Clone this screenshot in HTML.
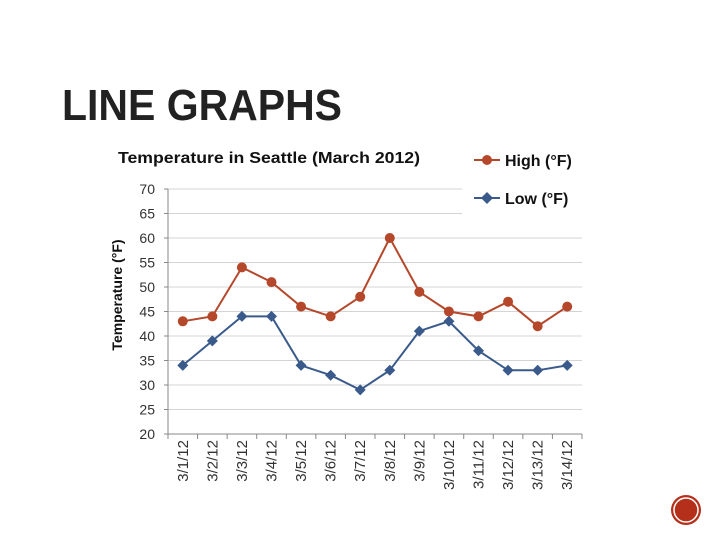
<!DOCTYPE html>
<html><head><meta charset="utf-8"><style>
body{margin:0;background:#fff}
svg{display:block;font-family:"Liberation Sans",sans-serif}
</style></head><body>
<svg id="c" width="720" height="540" viewBox="0 0 720 540">
<text x="62" y="120" font-size="44" font-weight="bold" fill="#222" textLength="280" lengthAdjust="spacingAndGlyphs">LINE GRAPHS</text>
<text x="118" y="163" font-size="16" font-weight="bold" fill="#111" textLength="302" lengthAdjust="spacingAndGlyphs">Temperature in Seattle (March 2012)</text>
<text transform="translate(122,295) rotate(-90)" text-anchor="middle" font-size="14" font-weight="bold" fill="#111">Temperature (°F)</text>
<g id="grid"></g><g id="axes"></g><g id="series"></g>
<rect x="462" y="140" width="130" height="75" fill="#fff"/>
<g>
<line x1="474" y1="160" x2="500" y2="160" stroke="#b5472a" stroke-width="2"/><circle cx="487" cy="160" r="5" fill="#b5472a"/>
<text x="505" y="166" font-size="16" font-weight="bold" fill="#111">High (°F)</text></g>
<g>
<line x1="474" y1="198" x2="500" y2="198" stroke="#3a5a8c" stroke-width="2"/><path d="M487 192 L493 198 L487 204 L481 198Z" fill="#3a5a8c"/>
<text x="505" y="204" font-size="16" font-weight="bold" fill="#111">Low (°F)</text></g>
<g>
<circle cx="686" cy="510" r="15" fill="#b5301a"/><circle cx="686" cy="510" r="12" fill="none" stroke="#fff" stroke-width="1.5"/></g>
</svg>
<script>
const categories=["3/1/12","3/2/12","3/3/12","3/4/12","3/5/12","3/6/12","3/7/12","3/8/12","3/9/12","3/10/12","3/11/12","3/12/12","3/13/12","3/14/12"];
const highValues=[43,44,54,51,46,44,48,60,49,45,44,47,42,46];
const lowValues=[34,39,44,44,34,32,29,33,41,43,37,33,33,34];
const yTicks=[20,25,30,35,40,45,50,55,60,65,70];
const NS="http://www.w3.org/2000/svg";
const L=168,R=582,T=189,B=434,yMin=20,yMax=70;
const cw=(R-L)/categories.length;
const xs=i=>L+cw*(i+0.5);
const ys=v=>B-(v-yMin)/(yMax-yMin)*(B-T);
function mk(tag,a,p){const e=document.createElementNS(NS,tag);for(const k in a)e.setAttribute(k,a[k]);p.appendChild(e);return e;}
const grid=document.getElementById('grid'),axes=document.getElementById('axes'),ser=document.getElementById('series');
yTicks.forEach(t=>{
 const y=ys(t);
 if(t>yMin){const g=mk('line',{x1:L,x2:R,y1:y,y2:y,stroke:'#d4d4d4','stroke-width':1},grid);
 
 }
 const tx=mk('text',{x:L-13,y:y+5,'text-anchor':'end','font-size':14,fill:'#333'},axes);tx.textContent=t;
 
 
 mk('line',{x1:L-4,x2:L,y1:y,y2:y,stroke:'#888'},axes);
});
mk('line',{x1:L,x2:L,y1:T,y2:B,stroke:'#888'},axes);
mk('line',{x1:L,x2:R,y1:B,y2:B,stroke:'#888'},axes);
categories.forEach((c,i)=>{
 const xe=L+cw*(i+1);
 mk('line',{x1:xe,x2:xe,y1:B,y2:B+5,stroke:'#888'},axes);
 const t=mk('text',{transform:`translate(${xs(i)+5},${B+6}) rotate(-90)`,'text-anchor':'end','font-size':15,fill:'#333'},axes);
 t.textContent=c;
 
 
});
mk('line',{x1:L,x2:L,y1:B,y2:B+5,stroke:'#888'},axes);
function line(vals,col,name,shape){
 const p=mk('polyline',{points:vals.map((v,i)=>xs(i)+','+ys(v)).join(' '),fill:'none',stroke:col,'stroke-width':2},ser);
 
 
 vals.forEach((v,i)=>{
  const x=xs(i),y=ys(v);let m;
  if(shape==='c')m=mk('circle',{cx:x,cy:y,r:5,fill:col},ser);
  else m=mk('path',{d:`M${x} ${y-5.5}L${x+5.5} ${y}L${x} ${y+5.5}L${x-5.5} ${y}Z`,fill:col},ser);
  
  
 });
}
line(highValues,'#b5472a','high','c');
line(lowValues,'#3a5a8c','low','d');
</script>
</body></html>
